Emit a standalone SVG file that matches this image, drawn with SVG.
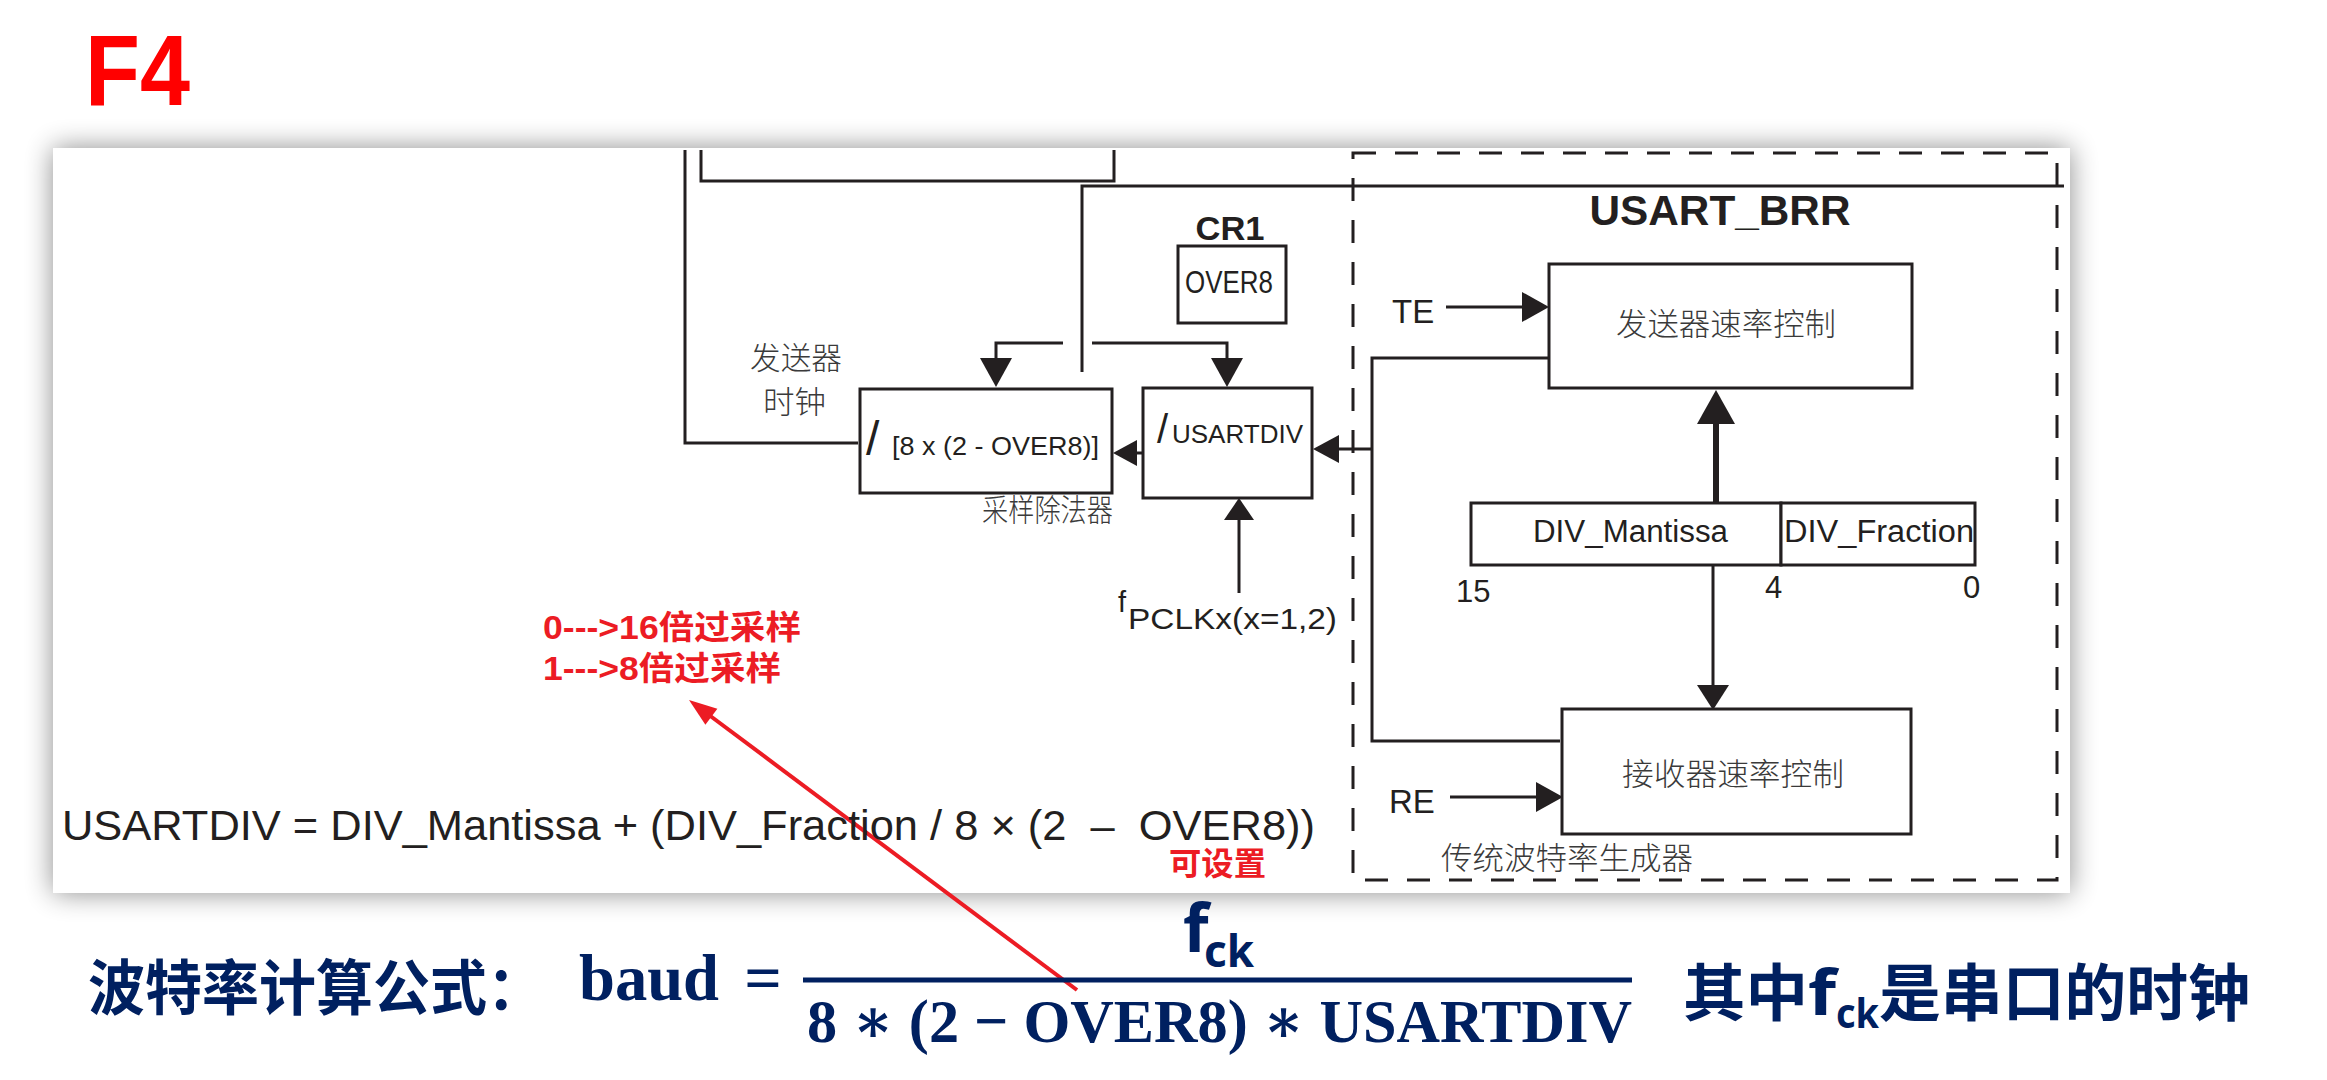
<svg xmlns="http://www.w3.org/2000/svg" width="2327" height="1080" viewBox="0 0 2327 1080">
<style>
.ln{fill:none;stroke:#231f20;stroke-width:3}
.bx{fill:#fff;stroke:#231f20;stroke-width:3}
.ah{fill:#231f20}
.t{font-family:"Liberation Sans",Arial,sans-serif;fill:#231f20}
.cj{font-family:"Noto Sans CJK SC",sans-serif;font-weight:300;fill:#3a3a3a;font-size:31px}
.red{font-family:"Liberation Sans","Noto Sans CJK SC",sans-serif;font-weight:bold;fill:#ec1c24}
.nv{fill:#002060}
</style>
<defs>
<filter id="sh" x="-10%" y="-20%" width="120%" height="140%">
<feGaussianBlur stdDeviation="14"/>
</filter>
</defs>
<rect width="2327" height="1080" fill="#fff"/>
<text x="85" y="105" font-family="Liberation Sans,Arial,sans-serif" font-weight="bold" font-size="100" fill="#ff0000" textLength="105" lengthAdjust="spacingAndGlyphs">F4</text>
<g id="panel">
<rect x="53" y="148" width="2017" height="745" fill="#000" opacity="0.45" filter="url(#sh)"/>
<rect x="53" y="148" width="2017" height="745" fill="#fff"/>
</g>
<g id="usart_brr_frame">
<rect x="1353" y="153" width="704" height="727" fill="none" stroke="#231f20" stroke-width="3" stroke-dasharray="23 19"/>
<text class="t" x="1720" y="225" text-anchor="middle" font-weight="bold" font-size="42" textLength="261" lengthAdjust="spacingAndGlyphs">USART_BRR</text>
<text class="cj" x="1441" y="869" textLength="252" lengthAdjust="spacingAndGlyphs">传统波特率生成器</text>
</g>
<g id="connectors">
<polyline class="ln" points="685,150 685,443 858,443"/>
<polyline class="ln" points="701,150 701,181 1114,181 1114,150"/>
<polyline class="ln" points="1082,372 1082,186 2064,186"/>
<polyline class="ln" points="996,372 996,343 1063,343"/>
<polyline class="ln" points="1092,343 1227,343 1227,370"/>
<polygon class="ah" points="980,358 1012,358 996,387"/>
<polygon class="ah" points="1211,358 1243,358 1227,387"/>
<line class="ln" x1="1143" y1="453" x2="1130" y2="453"/>
<polygon class="ah" points="1137,440 1137,466 1113,453"/>
<polyline class="ln" points="1562,358 1372,358 1372,741 1560,741"/>
<line class="ln" x1="1372" y1="449" x2="1330" y2="449"/>
<polygon class="ah" points="1339,435 1339,463 1313,449"/>
<line class="ln" x1="1239" y1="593" x2="1239" y2="515"/>
<polygon class="ah" points="1224,520 1254,520 1239,498"/>
<line class="ln" x1="1446" y1="307" x2="1525" y2="307"/>
<polygon class="ah" points="1522,292 1522,322 1549,307"/>
<line class="ln" x1="1450" y1="797" x2="1540" y2="797"/>
<polygon class="ah" points="1536,782 1536,812 1563,797"/>
<line x1="1716" y1="503" x2="1716" y2="420" stroke="#231f20" stroke-width="6"/>
<polygon class="ah" points="1697,424 1735,424 1716,390"/>
<line class="ln" x1="1713" y1="565" x2="1713" y2="690"/>
<polygon class="ah" points="1697,685 1729,685 1713,710"/>
<line x1="1077" y1="990" x2="705" y2="712" stroke="#ec1c24" stroke-width="4"/>
<polygon points="689,700 705.4,724.8 717.4,708.8" fill="#ec1c24"/>
</g>
<g id="cr1">
<text class="t" x="1230" y="240" text-anchor="middle" font-weight="bold" font-size="34" textLength="69" lengthAdjust="spacingAndGlyphs">CR1</text>
<rect class="bx" x="1178" y="246" width="108" height="77"/>
<text class="t" x="1229" y="293" text-anchor="middle" font-size="31" textLength="88" lengthAdjust="spacingAndGlyphs">OVER8</text>
</g>
<g id="tx_clock_label">
<text class="cj" x="750" y="369" textLength="92" lengthAdjust="spacingAndGlyphs">发送器</text>
<text class="cj" x="763" y="413" textLength="63" lengthAdjust="spacingAndGlyphs">时钟</text>
</g>
<g id="sample_divider">
<rect class="bx" x="860" y="389" width="252" height="104"/>
<text class="t" x="866" y="455" font-size="48">/</text>
<text class="t" x="892" y="455" font-size="26" textLength="207" lengthAdjust="spacingAndGlyphs">[8 x (2 - OVER8)]</text>
<text class="cj" x="982" y="521" font-size="26" textLength="131" lengthAdjust="spacingAndGlyphs">采样除法器</text>
</g>
<g id="usartdiv">
<rect class="bx" x="1143" y="388" width="169" height="110"/>
<text class="t" x="1157" y="443" font-size="40">/</text>
<text class="t" x="1172" y="443" font-size="25" textLength="131" lengthAdjust="spacingAndGlyphs">USARTDIV</text>
</g>
<g id="fpclk">
<text class="t" x="1118" y="612" font-size="29">f</text>
<text class="t" x="1128" y="629" font-size="30" textLength="209" lengthAdjust="spacingAndGlyphs">PCLKx(x=1,2)</text>
</g>
<g id="tx_rate">
<rect class="bx" x="1549" y="264" width="363" height="124"/>
<text class="cj" x="1616" y="335" textLength="220" lengthAdjust="spacingAndGlyphs">发送器速率控制</text>
<text class="t" x="1392" y="323" font-size="33">TE</text>
</g>
<g id="brr_fields">
<rect class="bx" x="1471" y="503" width="310" height="62"/>
<rect class="bx" x="1781" y="503" width="194" height="62"/>
<text class="t" x="1533" y="542" font-size="31" textLength="195" lengthAdjust="spacingAndGlyphs">DIV_Mantissa</text>
<text class="t" x="1784" y="542" font-size="31" textLength="190" lengthAdjust="spacingAndGlyphs">DIV_Fraction</text>
<text class="t" x="1456" y="602" font-size="31">15</text>
<text class="t" x="1765" y="598" font-size="31">4</text>
<text class="t" x="1963" y="598" font-size="31">0</text>
</g>
<g id="rx_rate">
<rect class="bx" x="1562" y="709" width="349" height="125"/>
<text class="cj" x="1622" y="785" textLength="222" lengthAdjust="spacingAndGlyphs">接收器速率控制</text>
<text class="t" x="1389" y="813" font-size="33">RE</text>
</g>
<g id="notes">
<text class="red" x="543" y="639" font-size="33" textLength="258" lengthAdjust="spacingAndGlyphs">0---&gt;16倍过采样</text>
<text class="red" x="543" y="680" font-size="33" textLength="238" lengthAdjust="spacingAndGlyphs">1---&gt;8倍过采样</text>
<text class="t" x="62" y="840" font-size="42" textLength="1253" lengthAdjust="spacingAndGlyphs" xml:space="preserve">USARTDIV = DIV_Mantissa + (DIV_Fraction / 8 × (2  –  OVER8))</text>
<text class="red" x="1169" y="875" font-size="32" textLength="97" lengthAdjust="spacingAndGlyphs">可设置</text>
</g>
<g id="baud_formula" class="nv">
<text x="88" y="1010" font-family="Noto Sans CJK SC,sans-serif" font-weight="bold" font-size="60" textLength="456" lengthAdjust="spacingAndGlyphs">波特率计算公式：</text>
<text x="579" y="1000" font-family="Liberation Serif,serif" font-weight="bold" font-size="66" textLength="140" lengthAdjust="spacingAndGlyphs">baud</text>
<text x="763" y="1000" text-anchor="middle" font-family="Liberation Serif,serif" font-weight="bold" font-size="66">=</text>
<line x1="803" y1="980" x2="1632" y2="980" stroke="#002060" stroke-width="5"/>
<text x="1183" y="952" font-family="Noto Sans,sans-serif" font-weight="bold" font-size="66">f</text>
<text x="1204" y="967" font-family="Noto Sans,sans-serif" font-weight="bold" font-size="44" textLength="50" lengthAdjust="spacingAndGlyphs">ck</text>
<text x="807" y="1042" font-family="Liberation Serif,DejaVu Serif,serif" font-weight="bold" font-size="62" textLength="825" lengthAdjust="spacingAndGlyphs">8 ∗ (2 − OVER8) ∗ USARTDIV</text>
<text x="1683" y="1016" font-family="Noto Sans CJK SC,sans-serif" font-weight="bold" font-size="62" textLength="125" lengthAdjust="spacingAndGlyphs">其中</text>
<text x="1808" y="1015" font-family="Noto Sans,sans-serif" font-weight="bold" font-size="62" textLength="28" lengthAdjust="spacingAndGlyphs">f</text>
<text x="1836" y="1028" font-family="Noto Sans,sans-serif" font-weight="bold" font-size="42" textLength="43" lengthAdjust="spacingAndGlyphs">ck</text>
<text x="1879" y="1016" font-family="Noto Sans CJK SC,sans-serif" font-weight="bold" font-size="62" textLength="371" lengthAdjust="spacingAndGlyphs">是串口的时钟</text>
</g>
</svg>
